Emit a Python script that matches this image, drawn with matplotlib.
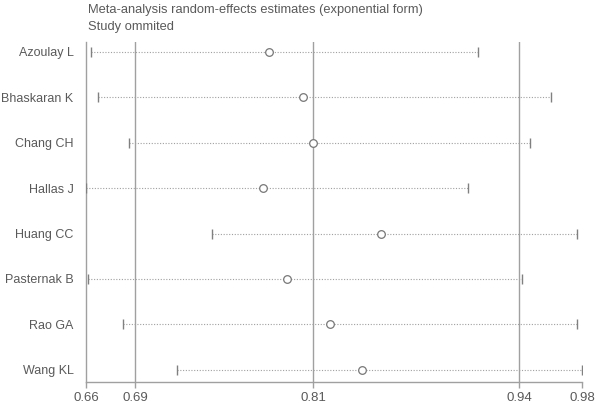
import numpy as np
import matplotlib
matplotlib.use("Agg")
import matplotlib.pyplot as plt

plt.rcParams['font.family'] = ['Liberation Sans', 'DejaVu Sans']

studies = ["Azoulay L", "Bhaskaran K", "Chang CH", "Hallas J",
           "Huang CC", "Pasternak B", "Rao GA", "Wang KL"]
estimate = [0.777, 0.799, 0.806, 0.773, 0.850, 0.789, 0.817, 0.838]
lower = [0.661, 0.666, 0.686, 0.658, 0.740, 0.659, 0.682, 0.717]
upper = [0.913, 0.961, 0.947, 0.907, 0.978, 0.942, 0.978, 0.981]

# overall estimate and its CI, plus axis limits
ref_lines = [0.690, 0.806, 0.940]
x_min, x_max = 0.658, 0.981
tick_vals = [x_min, 0.690, 0.806, 0.940, x_max]

grey = "#a0a0a0"
txt = "#5a5a5a"

fig = plt.figure(figsize=(6, 4.05), dpi=100)
ax = fig.add_axes([86 / 600, 23 / 405, 496 / 600, 340 / 405])

y = np.arange(1, len(studies) + 1)

for v in ref_lines:
    ax.axvline(v, color=grey, lw=1.0, zorder=1)

for yi, lo, hi, est in zip(y, lower, upper, estimate):
    ax.plot([lo, hi], [yi, yi], color=grey, lw=0.8, ls=(0, (1, 1.5)), zorder=2)
ax.plot(lower, y, ls="none", marker="|", ms=7, mew=1.0, color="#808080", zorder=3)
ax.plot(upper, y, ls="none", marker="|", ms=7, mew=1.0, color="#808080", zorder=3)
ax.plot(estimate, y, ls="none", marker="o", ms=5.5, mfc="white", mec="#777777",
        mew=0.9, zorder=4)

ax.set_xlim(x_min, x_max)
ax.set_ylim(8.27, 0.78)
ax.set_xticks(tick_vals)
ax.set_xticklabels(["%.2f" % v for v in tick_vals])
ax.set_yticks(y)
ax.set_yticklabels(studies)

for s in ["top", "right"]:
    ax.spines[s].set_visible(False)
for s in ["left", "bottom"]:
    ax.spines[s].set_color(grey)
    ax.spines[s].set_linewidth(1.0)

ax.tick_params(axis="x", colors=grey, labelcolor=txt, labelsize=9.5, length=4, width=1)
ax.tick_params(axis="y", length=0, pad=9, labelcolor=txt, labelsize=9)

fig.text(88 / 600, 1 - 10 / 405, "Meta-analysis random-effects estimates (exponential form)",
         fontsize=9.3, color=txt, va="center", ha="left")
fig.text(88 / 600, 1 - 27 / 405, "Study ommited",
         fontsize=9.3, color=txt, va="center", ha="left")

fig.savefig("out.png", dpi=100, facecolor="white")
